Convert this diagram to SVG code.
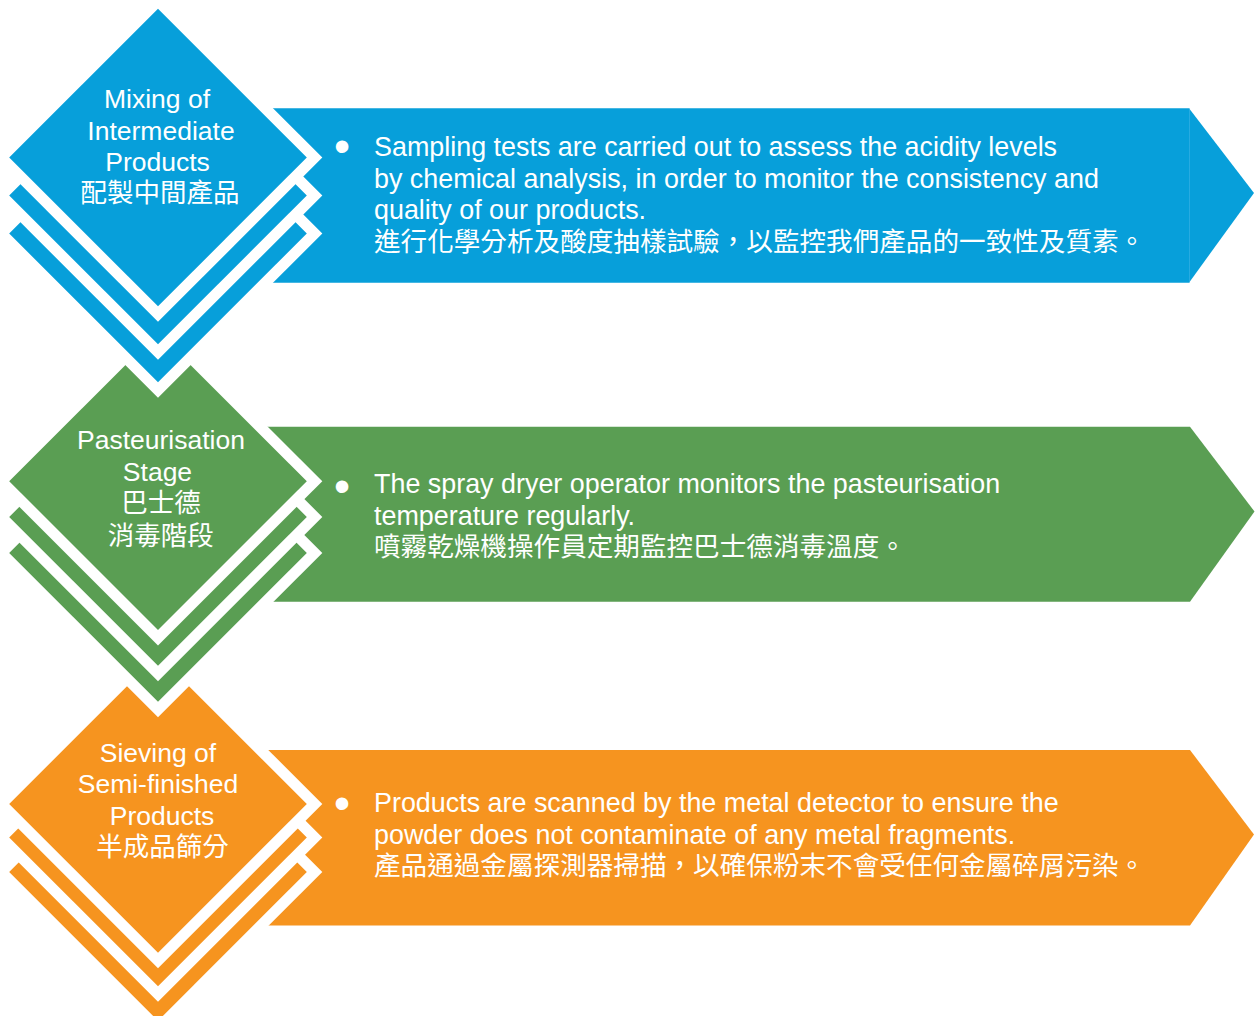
<svg xmlns="http://www.w3.org/2000/svg" xmlns:xlink="http://www.w3.org/1999/xlink" width="1255" height="1016" viewBox="0 0 1255 1016">
  <style>
    .blue { fill: #079fda; }
    .green { fill: #5a9e53; }
    .orange { fill: #f6941f; }
    .gap { fill: #ffffff; }
    .label { font-family: "Liberation Sans", "Noto Sans CJK TC", sans-serif; font-size: 26.5px; fill: #ffffff; text-anchor: middle; }
    .body { font-family: "Liberation Sans", "Noto Sans CJK TC", sans-serif; font-size: 26.9px; fill: #ffffff; }
    .body-cjk { font-family: "Noto Sans CJK TC", sans-serif; font-size: 26.6px; fill: #ffffff; }
    .bullet { font-family: "Liberation Sans", sans-serif; font-size: 46px; fill: #ffffff; text-anchor: middle; }
  </style>
  <defs>
    <!-- white halo that separates stacked tiles -->
    <polygon id="halo" points="0,-164.3 164.3,0 0,164.3 -164.3,0"/>
    <!-- coloured diamond tile -->
    <polygon id="tile" points="0,-148.8 148.8,0 0,148.8 -148.8,0"/>
  </defs>

  <rect width="1255" height="1016" fill="#ffffff"/>

  <!-- Stage 3: sieving (drawn first so the stages above overlap it) -->
  <g id="stage-sieving">
    <polygon class="orange" points="200,750 1190,750 1254,834.5 1190,925.5 200,925.5"/>
    <use href="#halo" x="158" y="872" class="gap"/>
    <use href="#tile" x="158" y="872" class="orange"/>
    <use href="#halo" x="158" y="837.5" class="gap"/>
    <use href="#tile" x="158" y="837.5" class="orange"/>
    <use href="#halo" x="158" y="804" class="gap"/>
    <use href="#tile" x="158" y="804" class="orange"/>
    <text class="label" x="158" y="761.7">Sieving of</text>
    <text class="label" x="158" y="793.3">Semi-finished</text>
    <text class="label" x="162" y="825">Products</text>
    <text class="label" x="162.5" y="856">半成品篩分</text>
    <text class="bullet" x="342" y="818.8">•</text>
    <text class="body" x="374" y="811.7">Products are scanned by the metal detector to ensure the</text>
    <text class="body" x="374" y="844">powder does not contaminate of any metal fragments.</text>
    <text class="body-cjk" x="374" y="874.5">產品通過金屬探測器掃描，以確保粉末不會受任何金屬碎屑污染。</text>
  </g>

  <!-- Stage 2: pasteurisation -->
  <g id="stage-pasteurisation">
    <polygon class="green" points="200,426.7 1190,426.7 1254.5,511.5 1190,601.7 200,601.7"/>
    <use href="#halo" x="158" y="553" class="gap"/>
    <use href="#tile" x="158" y="553" class="green"/>
    <use href="#halo" x="158" y="517" class="gap"/>
    <use href="#tile" x="158" y="517" class="green"/>
    <use href="#halo" x="158" y="481.2" class="gap"/>
    <use href="#tile" x="158" y="481.2" class="green"/>
    <text class="label" x="161" y="449.3">Pasteurisation</text>
    <text class="label" x="157.5" y="480.7">Stage</text>
    <text class="label" x="161" y="512">巴士德</text>
    <text class="label" x="160.7" y="544.5">消毒階段</text>
    <text class="bullet" x="342" y="502.2">•</text>
    <text class="body" x="374" y="492.7">The spray dryer operator monitors the pasteurisation</text>
    <text class="body" x="374" y="525">temperature regularly.</text>
    <text class="body-cjk" x="374" y="556">噴霧乾燥機操作員定期監控巴士德消毒溫度。</text>
  </g>

  <!-- Stage 1: mixing -->
  <g id="stage-mixing">
    <polygon class="blue" points="200,108.3 1189,108.3 1254,193 1189,282.7 200,282.7"/>
    <line x1="1189.5" y1="108.3" x2="1189.5" y2="282.7" stroke="#3db3e6" stroke-width="1" opacity="0.6"/>
    <use href="#halo" x="158" y="233.5" class="gap"/>
    <use href="#tile" x="158" y="233.5" class="blue"/>
    <use href="#halo" x="158" y="195.5" class="gap"/>
    <use href="#tile" x="158" y="195.5" class="blue"/>
    <use href="#halo" x="158" y="157.5" class="gap"/>
    <use href="#tile" x="158" y="157.5" class="blue"/>
    <text class="label" x="157" y="108">Mixing of</text>
    <text class="label" x="161" y="139.5">Intermediate</text>
    <text class="label" x="157.5" y="171">Products</text>
    <text class="label" x="160" y="202">配製中間產品</text>
    <text class="bullet" x="342" y="162.2">•</text>
    <text class="body" x="374" y="156">Sampling tests are carried out to assess the acidity levels</text>
    <text class="body" x="374" y="187.7">by chemical analysis, in order to monitor the consistency and</text>
    <text class="body" x="374" y="219.3">quality of our products.</text>
    <text class="body-cjk" x="374" y="250.5">進行化學分析及酸度抽樣試驗，以監控我們產品的一致性及質素。</text>
  </g>
</svg>
